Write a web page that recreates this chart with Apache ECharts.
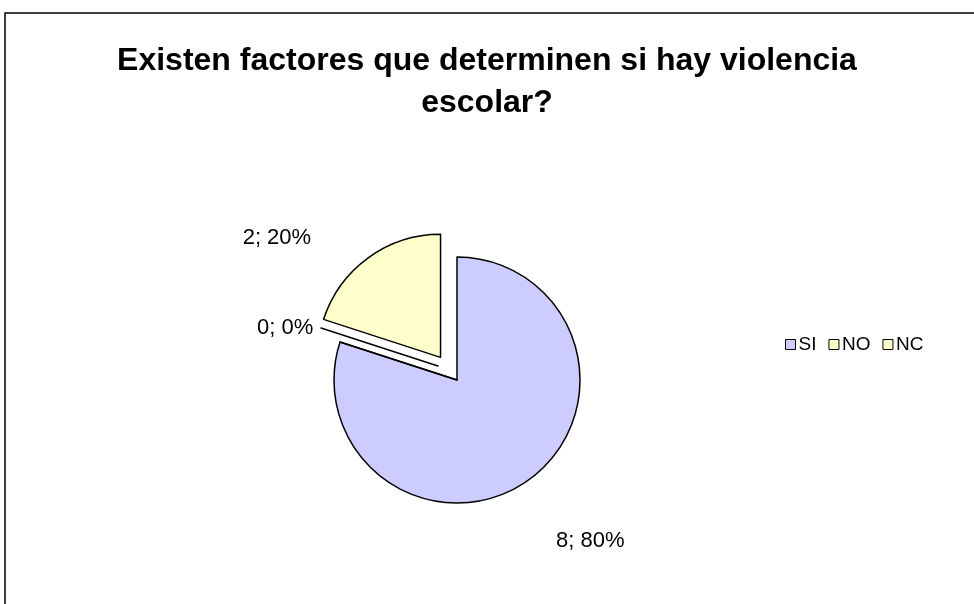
<!DOCTYPE html>
<html>
<head>
<meta charset="utf-8">
<script src="https://cdn.jsdelivr.net/npm/echarts@6/dist/echarts.min.js"></script>
<style>html,body{margin:0;padding:0;background:#fff;}#c{width:974px;height:604px;}</style>
</head>
<body>
<div id="c"></div>
<script>
var titleText = 'Existen factores que determinen si hay violencia\nescolar?';
var categories = ['SI', 'NC', 'NO'];
var values = [8, 0, 2];
var legendOrder = ['SI', 'NO', 'NC'];
var colors = {SI: '#CCCCFF', NO: '#FFFFCC', NC: '#FFFFCC'};
var exploded = {SI: false, NO: true, NC: false};
var labelLen = {SI: [76, -23], NC: [45, -21], NO: [24, 38]};

var chart = echarts.init(document.getElementById('c'));
var data = categories.map(function (c, i) {
  return {
    name: c, value: values[i], selected: exploded[c], itemStyle: {color: colors[c]},
    labelLine: {show: false, length: labelLen[c][0], length2: labelLen[c][1]}
  };
});
// ghost copy of the pie that only shows the zero slice, drawn detached like in the original
var ghost = categories.map(function (c, i) {
  var show = c === 'NC';
  return {
    name: c, value: values[i],
    itemStyle: show ? {color: colors[c], borderColor: '#000', borderWidth: 1.5} : {color: 'rgba(0,0,0,0)', borderWidth: 0},
    label: {show: false}, labelLine: {show: false}
  };
});
chart.setOption({
  animation: false,
  graphic: [{type: 'rect', shape: {x: 5, y: 13, width: 1200, height: 1000}, style: {fill: 'none', stroke: '#000', lineWidth: 1.5}, z: 100}],
  title: {
    text: titleText, left: 'center', top: 35,
    textStyle: {fontFamily: 'Liberation Sans, Arial', fontWeight: 'bold', fontSize: 32, color: '#000', lineHeight: 42}
  },
  legend: {
    data: legendOrder, orient: 'horizontal', left: 780, top: 330, itemGap: 12,
    icon: 'rect', itemWidth: 10, itemHeight: 10,
    itemStyle: {borderColor: '#000', borderWidth: 1},
    textStyle: {fontFamily: 'Liberation Sans, Arial', fontSize: 19, color: '#000', padding: [0, 0, 0, -2]}
  },
  series: [{
    type: 'pie', center: [457, 380], radius: 123, startAngle: 90, clockwise: true,
    selectedMode: 'multiple', selectedOffset: 28, avoidLabelOverlap: false,
    minAngle: 0, stillShowZeroSum: true,
    itemStyle: {borderColor: '#000', borderWidth: 1.5},
    emphasis: {disabled: true},
    label: {
      show: true, position: 'outside', formatter: function (p) { return p.value + '; ' + Math.round(p.percent) + '%'; },
      fontFamily: 'Liberation Sans, Arial', fontSize: 22, color: '#000'
    },
    data: data
  }, {
    type: 'pie', center: [438, 366], radius: 123, startAngle: 90, clockwise: true,
    silent: true, avoidLabelOverlap: false, minAngle: 0, stillShowZeroSum: true,
    emphasis: {disabled: true}, z: 3,
    label: {show: false}, labelLine: {show: false},
    data: ghost
  }]
});
</script>
</body>
</html>
